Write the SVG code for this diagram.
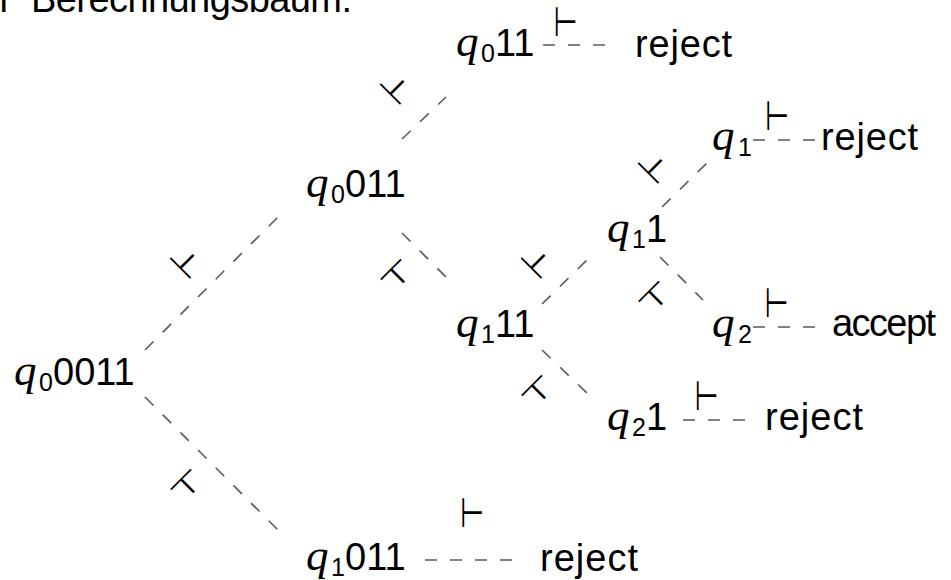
<svg xmlns="http://www.w3.org/2000/svg" width="951" height="580" viewBox="0 0 951 580">
<style>
.t{font-family:"Liberation Sans",Arial,sans-serif;font-size:38px;fill:#000}
.q{font-family:"Liberation Serif","Times New Roman",serif;font-style:italic;font-size:45px}
.s{font-size:25px}
.e{fill:none;stroke:#5a5a5a;stroke-width:1.6;stroke-dasharray:12 13}
.l{font-family:"DejaVu Sans",sans-serif;font-size:44px;text-anchor:middle;fill:#000}
</style>
<rect width="951" height="580" fill="#fff"/>
<text class="t" y="12"><tspan x="-47">Ein</tspan><tspan x="31" textLength="321">Berechnungsbaum:</tspan></text>
<g id="connectors">
<path class="e" d="M145 350L285 210"/>
<path class="e" d="M145 397L285 537"/>
<path class="e" d="M402 139L446 97"/>
<path class="e" d="M402 233L446 277"/>
<path class="e" d="M542 304L587 260"/>
<path class="e" d="M542 350L587 393"/>
<path class="e" d="M662 207L707 163"/>
<path class="e" d="M660 257L703 300"/>
<path class="e" d="M543 45H605"/>
<path class="e" d="M753 140H815"/>
<path class="e" d="M753 327H815"/>
<path class="e" d="M683 420H745"/>
<path class="e" d="M425 560H512"/>
<text class="l" transform="translate(187 262) rotate(-45) scale(0.63 0.93)" y="15">⊢</text>
<text class="l" transform="translate(187 486) rotate(45) scale(0.63 0.93)" y="15">⊢</text>
<text class="l" transform="translate(397 88) rotate(-45) scale(0.63 0.93)" y="15">⊢</text>
<text class="l" transform="translate(397 276) rotate(45) scale(0.63 0.93)" y="15">⊢</text>
<text class="l" transform="translate(538 262) rotate(-45) scale(0.63 0.93)" y="15">⊢</text>
<text class="l" transform="translate(538 392) rotate(45) scale(0.63 0.93)" y="15">⊢</text>
<text class="l" transform="translate(655 167) rotate(-45) scale(0.63 0.93)" y="15">⊢</text>
<text class="l" transform="translate(655 298) rotate(45) scale(0.63 0.93)" y="15">⊢</text>
<text class="l" transform="translate(565.5 22.5) scale(0.63 0.93)" y="15">⊢</text>
<text class="l" transform="translate(777 116.5) scale(0.63 0.93)" y="15">⊢</text>
<text class="l" transform="translate(776.5 303.5) scale(0.63 0.93)" y="15">⊢</text>
<text class="l" transform="translate(706.5 396.5) scale(0.63 0.93)" y="15">⊢</text>
<text class="l" transform="translate(472 513.5) scale(0.63 0.93)" y="15">⊢</text>
</g>
<g id="n1"><text class="t" y="385"><tspan class="q" x="14">q</tspan><tspan class="s" x="39" y="391">0</tspan><tspan x="53" y="385">0011</tspan></text></g>
<g id="n2"><text class="t" y="197"><tspan class="q" x="306">q</tspan><tspan class="s" x="331" y="203">0</tspan><tspan x="345" y="197">011</tspan></text></g>
<g id="n3"><text class="t" y="56"><tspan class="q" x="456">q</tspan><tspan class="s" x="481" y="62">0</tspan><tspan x="495" y="56">11</tspan></text></g>
<g id="n4"><text class="t" y="337"><tspan class="q" x="456">q</tspan><tspan class="s" x="481" y="343">1</tspan><tspan x="495" y="337">11</tspan></text></g>
<g id="n5"><text class="t" y="242"><tspan class="q" x="607">q</tspan><tspan class="s" x="632" y="248">1</tspan><tspan x="646" y="242">1</tspan></text></g>
<g id="n6"><text class="t" y="150"><tspan class="q" x="712">q</tspan><tspan class="s" x="738" y="156">1</tspan></text></g>
<g id="n7"><text class="t" y="337"><tspan class="q" x="712">q</tspan><tspan class="s" x="738" y="343">2</tspan></text></g>
<g id="n8"><text class="t" y="430"><tspan class="q" x="607">q</tspan><tspan class="s" x="632" y="436">2</tspan><tspan x="646" y="430">1</tspan></text></g>
<g id="n9"><text class="t" y="570"><tspan class="q" x="306">q</tspan><tspan class="s" x="331" y="576">1</tspan><tspan x="345" y="570">011</tspan></text></g>
<g id="r1"><text class="t" x="635" y="57" textLength="97">reject</text></g>
<g id="r2"><text class="t" x="821" y="150" textLength="97">reject</text></g>
<g id="r3"><text class="t" x="832" y="336" textLength="104">accept</text></g>
<g id="r4"><text class="t" x="765" y="430" textLength="98">reject</text></g>
<g id="r5"><text class="t" x="540" y="571" textLength="98">reject</text></g>
</svg>
